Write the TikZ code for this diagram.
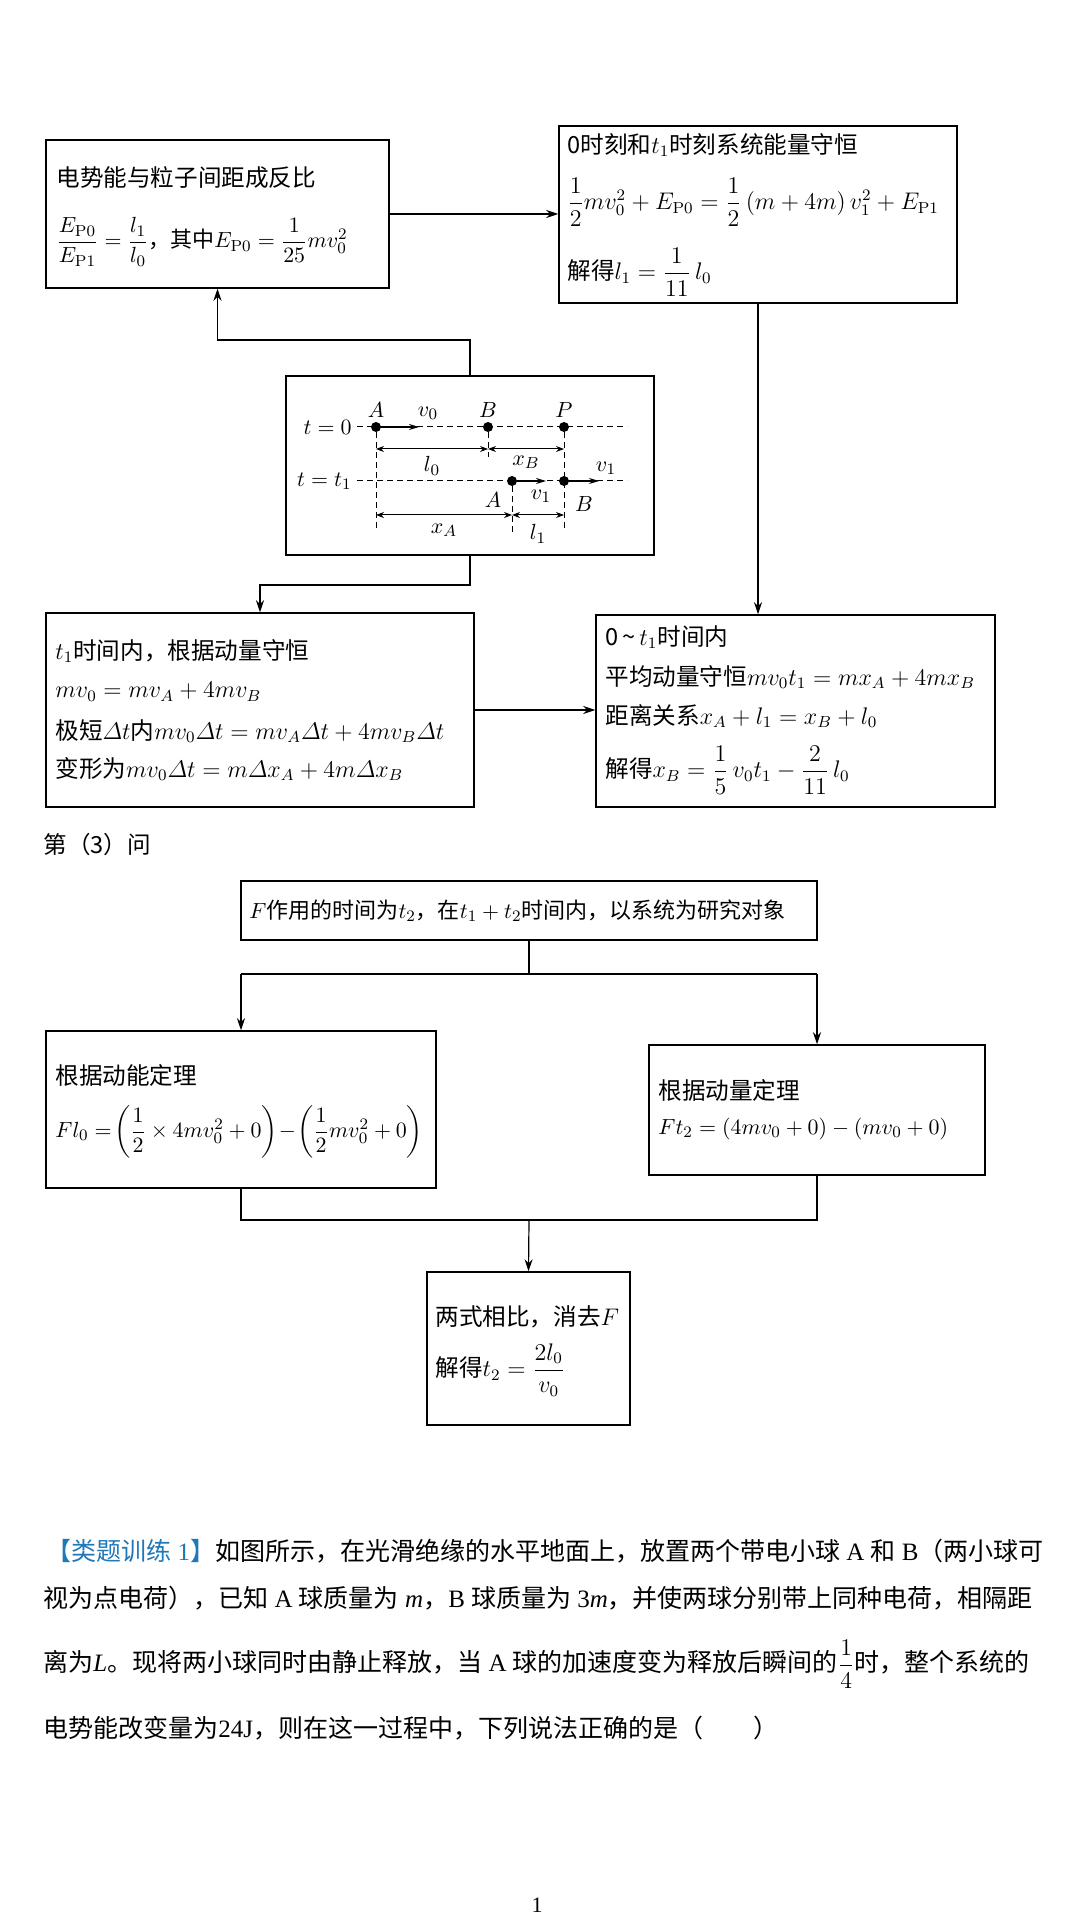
\documentclass[tikz,border=0pt]{standalone}
\usepackage{amsmath}
\usepackage[no-math]{fontspec}
\setmainfont{Noto Sans CJK SC}
\newfontfamily\lat{Liberation Serif}
\usetikzlibrary{arrows.meta,fit}
\definecolor{hblue}{RGB}{30,120,185}
\begin{document}
\begin{tikzpicture}[x=0.5pt,y=-0.5pt,
  box/.style={draw,line width=0.75pt,inner sep=0pt},
  txt/.style={anchor=west,inner sep=0pt,font=\fontsize{11.8}{13}\selectfont},
  stxt/.style={anchor=west,inner sep=0pt,font=\fontsize{11}{13}\selectfont},
  ptxt/.style={anchor=west,inner sep=0pt,font=\fontsize{12.5}{15}\selectfont},
  lab/.style={inner sep=0pt,font=\fontsize{11}{13}\selectfont},
  arr/.style={-{Stealth[length=6pt,width=4pt]},line width=0.6pt},
  ln/.style={line width=0.6pt},
  dsh/.style={dashed,dash pattern=on 3pt off 2pt,line width=0.5pt},
  dot/.style={circle,fill,inner sep=0pt,minimum size=5pt},
  dim/.style={{Stealth[length=4pt,width=3pt]}-{Stealth[length=4pt,width=3pt]},line width=0.5pt},
  varr/.style={-{Stealth[length=5pt,width=3pt]},line width=0.7pt}]
\useasboundingbox (0,0) rectangle (1080,1914);
\fill[white] (0,0) rectangle (1080,1914);

% boxes
\node (b1) [box,fit={(46,140) (389,288)}] {};
\node (b2) [box,fit={(559,126) (957,303)}] {};
\node (mid) [box,fit={(286,376) (654,555)}] {};
\node (b3) [box,fit={(46,613) (474,807)}] {};
\node (b4) [box,fit={(596,615) (995,807)}] {};
\node (b5) [box,fit={(241,881) (817,940)}] {};
\node (b6) [box,fit={(46,1031) (436,1188)}] {};
\node (b7) [box,fit={(649,1045) (985,1175)}] {};
\node (b8) [box,fit={(427,1272) (630,1425)}] {};

% box texts
\node (t11) [txt] at (56,178) {电势能与粒子间距成反比};
\node (t12) [stxt] at (56,242) {$\dfrac{E_{\mathrm{P0}}}{E_{\mathrm{P1}}}=\dfrac{l_1}{l_0}$，其中$E_{\mathrm{P0}}=\dfrac{1}{25}mv_0^2$};
\node (t21) [txt] at (567,145) {0时刻和$t_1$时刻系统能量守恒};
\node (t22) [txt] at (567,202) {$\dfrac12 mv_0^2+E_{\mathrm{P0}}=\dfrac12\,(m+4m)\,v_1^2+E_{\mathrm{P1}}$};
\node (t23) [txt] at (567,272) {解得$l_1=\dfrac{1}{11}\,l_0$};
\node (t31) [txt] at (55,651) {$t_1$时间内，根据动量守恒};
\node (t32) [txt] at (55,692) {$mv_0=mv_A+4mv_B$};
\node (t33) [txt] at (55,731) {极短$\varDelta t$内$mv_0\varDelta t=mv_A\varDelta t+4mv_B\varDelta t$};
\node (t34) [txt] at (55,769) {变形为$mv_0\varDelta t=m\varDelta x_A+4m\varDelta x_B$};
\node (t41) [txt] at (605,637) {0\,\textasciitilde\,$t_1$时间内};
\node (t42) [txt] at (605,677) {平均动量守恒$mv_0t_1=mx_A+4mx_B$};
\node (t43) [txt] at (605,716) {距离关系$x_A+l_1=x_B+l_0$};
\node (t44) [txt] at (605,770) {解得$x_B=\dfrac15\,v_0t_1-\dfrac{2}{11}\,l_0$};
\node (q3) [txt] at (43,845) {第（3）问};
\node (t51) [stxt] at (249,911) {$F$作用的时间为$t_2$，在$t_1+t_2$时间内，以系统为研究对象};
\node (t61) [txt] at (55,1075) {根据动能定理};
\node (t62) [stxt] at (55,1132) {$Fl_0=\!\biggl(\dfrac12\times4mv_0^2+0\biggr)\!-\!\biggl(\dfrac12mv_0^2+0\biggr)$};
\node (t71) [txt] at (658,1090) {根据动量定理};
\node (t72) [stxt] at (658,1129) {$Ft_2=(4mv_0+0)-(mv_0+0)$};
\node (t81) [txt] at (435,1317) {两式相比，消去$F$};
\node (t82) [txt] at (435,1370) {解得$t_2=\dfrac{2l_0}{v_0}$};

% connectors
\coordinate (u1) at (470,340);
\coordinate (d1) at (470,585);
\draw[arr] (mid.north) -- (u1) -| (b1.south);
\draw[arr] (mid.south) -- (d1) -| (b3.north);
\draw[arr] (b1.east) -- (b1.east -| b2.west);
\draw[arr] (b2.south) -- (b2.south |- b4.north);
\draw[arr] (b3.east) -- (b3.east -| b4.west);
\coordinate (s1) at (529,974);
\coordinate (s6) at (241,974);
\coordinate (s7) at (817,974);
\draw[ln] (b5.south) -- (s1);
\draw[ln] (s6) -- (s7);
\draw[arr] (s6) -- (b6.north);
\draw[arr] (s7) -- (b7.north);
\coordinate (m6) at (241,1220);
\coordinate (m7) at (817,1220);
\coordinate (m8) at (529,1220);
\draw[ln] (b6.south) -- (m6) -- (m7) -- (b7.south);
\draw[arr] (m8) -- (b8.north);

% motion diagram
\node (lt0) [lab,anchor=east] at (352,427) {$t=0$};
\node (lt1) [lab,anchor=east] at (352,481) {$t=t_1$};
\coordinate (l0s) at (357,427); \coordinate (l0e) at (627,427);
\coordinate (l1s) at (357,481); \coordinate (l1e) at (627,481);
\draw[dsh] (l0s) -- (l0e);
\draw[dsh] (l1s) -- (l1e);
\node (A0) [dot] at (376,427) {};
\node (B0) [dot] at (488,427) {};
\node (P0) [dot] at (564,427) {};
\node (A1) [dot] at (512,481) {};
\node (B1) [dot] at (564,481) {};
\node [lab] at (376,410) {$A$};
\node [lab] at (488,410) {$B$};
\node [lab] at (564,410) {$P$};
\coordinate (v0e) at (419,427);
\draw[varr] (A0) -- (v0e);
\node [lab] at (428,413) {$v_0$};
\coordinate (va1) at (546,481);
\draw[varr] (A1) -- (va1);
\node [lab] at (541,496) {$v_1$};
\coordinate (vb1) at (599,481);
\draw[varr] (B1) -- (vb1);
\node [lab] at (606,468) {$v_1$};
\node [lab] at (493,500) {$A$};
\node [lab] at (584,504) {$B$};
\coordinate (a0b) at (376,528); \coordinate (b0b) at (488,457);
\coordinate (p0b) at (564,528); \coordinate (a1b) at (512,533);
\draw[dsh] (A0) -- (a0b);
\draw[dsh] (B0) -- (b0b);
\draw[dsh] (P0) -- (p0b);
\draw[dsh] (A1) -- (a1b);
\coordinate (k1) at (376,449); \coordinate (k2) at (488,449); \coordinate (k3) at (564,449);
\draw[dim] (k1) -- (k2);
\draw[dim] (k2) -- (k3);
\node [lab] at (432,466) {$l_0$};
\node [lab] at (526,462) {$x_B$};
\coordinate (j1) at (376,515); \coordinate (j2) at (512,515); \coordinate (j3) at (564,515);
\draw[dim] (j1) -- (j2);
\draw[dim] (j2) -- (j3);
\node [lab] at (444,530) {$x_A$};
\node [lab] at (538,534) {$l_1$};

% paragraph
\node (p1) [ptxt] at (46,1551) {{\color{hblue}【类题训练{\lat\ 1}】}如图所示，在光滑绝缘的水平地面上，放置两个带电小球{\lat\ A }和{\lat\ B}（两小球可};
\node (p2) [ptxt] at (43,1598) {视为点电荷），已知{\lat\ A }球质量为{\lat\itshape\ m}，{\lat B }球质量为{\lat\ 3\textit{m}}，并使两球分别带上同种电荷，相隔距};
\node (p3) [ptxt] at (43,1664) {离为{\lat\itshape L}。现将两小球同时由静止释放，当{\lat\ A }球的加速度变为释放后瞬间的$\dfrac14$时，整个系统的};
\node (p4) [ptxt] at (43,1728) {电势能改变量为{\lat 24J}，则在这一过程中，下列说法正确的是（\qquad ）};
\node (pg) [lab,font=\lat\fontsize{11}{13}\selectfont] at (537,1905) {1};
\end{tikzpicture}
\end{document}
